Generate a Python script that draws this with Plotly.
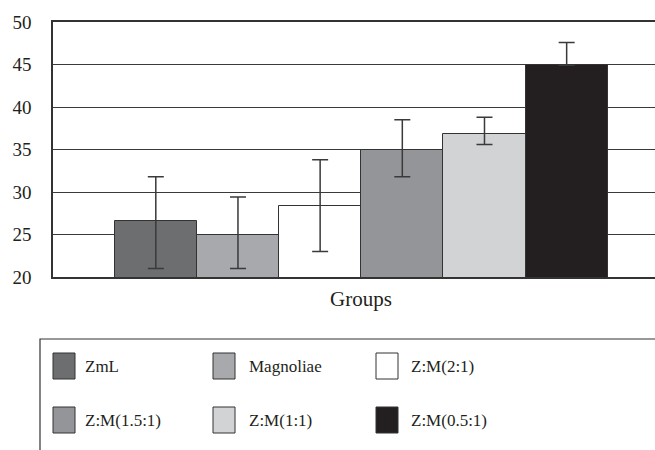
import plotly.graph_objects as go

categories = ["ZmL", "Magnoliae", "Z:M(2:1)", "Z:M(1.5:1)", "Z:M(1:1)", "Z:M(0.5:1)"]
values = [26.6, 24.95, 28.4, 34.9, 36.8, 44.9]
err_upper = [31.8, 29.4, 33.8, 38.5, 38.8, 47.6]
err_lower = [21.0, 21.0, 23.0, 31.8, 35.6, 44.9]
colors = ["#6d6e70", "#a7a9ac", "#ffffff", "#939598", "#d1d3d4", "#231f20"]
y_ticks = [20, 25, 30, 35, 40, 45, 50]
x_title = "Groups"

W, H = 655, 450
L, R, T, B = 53, 0, 22, 173
pw, ph = W - L - R, H - T - B

def px(x):
    return (x - L) / pw

def py(y):
    return (H - B - y) / ph

FONT = "Liberation Serif"
INK = "#231f20"

positions = list(range(len(categories)))
fig = go.Figure()
fig.add_trace(go.Bar(
    x=positions, y=values, width=1,
    marker=dict(color=colors, line=dict(color="#333333", width=1)),
    error_y=dict(type="data", symmetric=False,
                 array=[u - v for u, v in zip(err_upper, values)],
                 arrayminus=[v - l for v, l in zip(values, err_lower)],
                 color="#3a3a3a", thickness=1.5, width=8),
    showlegend=False, hoverinfo="skip",
))

fig.update_layout(
    width=W, height=H,
    margin=dict(l=L, r=R, t=T, b=B, autoexpand=False),
    paper_bgcolor="white", plot_bgcolor="white",
    bargap=0,
    font=dict(family=FONT, color=INK),
)
fig.update_xaxes(range=[-1.251, 6.075], showticklabels=False, showgrid=False,
                 zeroline=False, showline=True, mirror=True,
                 linecolor="#333333", linewidth=1.5, ticks="")
fig.update_yaxes(range=[20, 50], tickvals=y_ticks, showgrid=True,
                 gridcolor="#3a3a3a", gridwidth=1, zeroline=False,
                 showline=True, linecolor="#333333", linewidth=1.5,
                 ticks="", ticklabelstandoff=16,
                 tickfont=dict(size=19, family=FONT, color=INK))

fig.add_annotation(x=2.5, xref="x", y=py(299), yref="paper", text=x_title,
                   showarrow=False, font=dict(size=21, family=FONT, color=INK),
                   xanchor="center", yanchor="middle")

# legend box
fig.add_shape(type="rect", xref="paper", yref="paper",
              x0=px(40), x1=px(720), y0=py(339), y1=py(480),
              line=dict(color="#333333", width=1.2), fillcolor="rgba(0,0,0,0)")

col_sq = [53, 213, 376]
col_tx = [83, 247, 409]
row_top = [353, 407]
for i, (name, c) in enumerate(zip(categories, colors)):
    r, k = divmod(i, 3)
    x0 = col_sq[k]
    y0 = row_top[r]
    fig.add_shape(type="rect", xref="paper", yref="paper",
                  x0=px(x0), x1=px(x0 + 22), y0=py(y0), y1=py(y0 + 26),
                  line=dict(color="#333333", width=1), fillcolor=c)
    fig.add_annotation(x=px(col_tx[k]), y=py(y0 + 13), xref="paper", yref="paper",
                       text=name, showarrow=False, xanchor="left", yanchor="middle",
                       font=dict(size=17, family=FONT, color=INK))

fig.write_html("out.html", config={"displayModeBar": False},
               post_script="document.body.style.margin='0';document.body.style.overflow='hidden';")
